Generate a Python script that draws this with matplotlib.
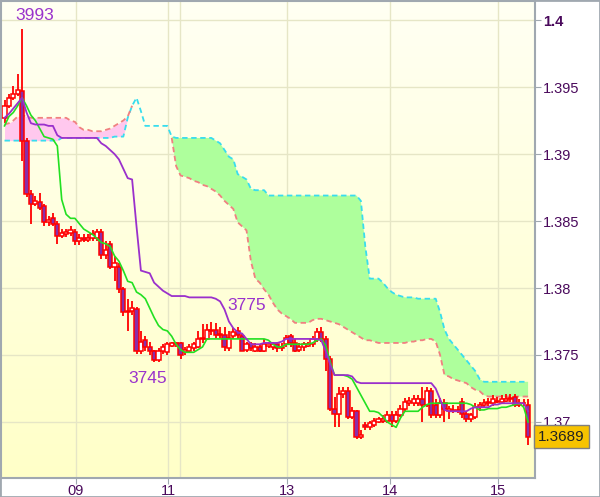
import numpy as np
import matplotlib.pyplot as plt
from matplotlib.colors import LinearSegmentedColormap
from matplotlib.patches import Rectangle

nan = float('nan')

# hourly candles
opens = [1.3927, 1.3936, 1.3942, 1.3945, 1.3947, 1.3910, 1.3870, 1.3863, 1.3864, 1.3861,
         1.3849, 1.3852, 1.3848, 1.3839, 1.3840, 1.3841, 1.3842, 1.3835, 1.3837, 1.3836,
         1.3837, 1.3837, 1.3842, 1.3825, 1.3833, 1.3816, 1.3816, 1.3799, 1.3782, 1.3783,
         1.3784, 1.3753, 1.3761, 1.3756, 1.3753, 1.3746, 1.3753, 1.3752, 1.3757, 1.3758,
         1.3759, 1.3752, 1.3753, 1.3755, 1.3756, 1.3762, 1.3762, 1.3768, 1.3769, 1.3765,
         1.3765, 1.3755, 1.3764, 1.3768, 1.3764, 1.3754, 1.3758, 1.3753, 1.3756, 1.3753,
         1.3757, 1.3756, 1.3758, 1.3755, 1.3758, 1.3764, 1.3759, 1.3754, 1.3756, 1.3757,
         1.3758, 1.3762, 1.3767, 1.3762, 1.3747, 1.3710, 1.3706, 1.3721, 1.3723, 1.3704,
         1.3708, 1.3689, 1.3698, 1.3696, 1.3698, 1.3700, 1.3701, 1.3701, 1.3705, 1.3701,
         1.3705, 1.3710, 1.3714, 1.3714, 1.3714, 1.3717, 1.3713, 1.3723, 1.3713, 1.3705,
         1.3714, 1.3708, 1.3708, 1.3708, 1.3715, 1.3706, 1.3702, 1.3704, 1.3711, 1.3713,
         1.3714, 1.3714, 1.3715, 1.3715, 1.3716, 1.3717, 1.3719, 1.3713, 1.3714, 1.3713]
closes = [1.3936, 1.3942, 1.3945, 1.3948, 1.3910, 1.3870, 1.3863, 1.3865, 1.3860, 1.3849,
          1.3851, 1.3848, 1.3839, 1.3841, 1.3842, 1.3843, 1.3835, 1.3837, 1.3836, 1.3837,
          1.3840, 1.3842, 1.3825, 1.3828, 1.3816, 1.3819, 1.3799, 1.3782, 1.3783, 1.3785,
          1.3753, 1.3760, 1.3756, 1.3753, 1.3746, 1.3753, 1.3756, 1.3758, 1.3759, 1.3759,
          1.3750, 1.3754, 1.3756, 1.3758, 1.3762, 1.3763, 1.3769, 1.3769, 1.3765, 1.3766,
          1.3756, 1.3763, 1.3767, 1.3765, 1.3753, 1.3758, 1.3755, 1.3756, 1.3753, 1.3758,
          1.3758, 1.3758, 1.3755, 1.3756, 1.3763, 1.3759, 1.3753, 1.3756, 1.3758, 1.3758,
          1.3762, 1.3767, 1.3762, 1.3747, 1.3710, 1.3706, 1.3721, 1.3723, 1.3704, 1.3708,
          1.3689, 1.3690, 1.3696, 1.3699, 1.3701, 1.3702, 1.3702, 1.3705, 1.3701, 1.3705,
          1.3710, 1.3715, 1.3716, 1.3717, 1.3717, 1.3713, 1.3723, 1.3705, 1.3705, 1.3714,
          1.3710, 1.3710, 1.3709, 1.3709, 1.3706, 1.3702, 1.3705, 1.3711, 1.3713, 1.3714,
          1.3715, 1.3717, 1.3716, 1.3717, 1.3717, 1.3718, 1.3713, 1.3714, 1.3714, 1.3689]
highs = [1.3940, 1.3945, 1.3951, 1.3960, 1.3993, 1.3912, 1.3873, 1.3869, 1.3871, 1.3863,
         1.3854, 1.3856, 1.3850, 1.3844, 1.3844, 1.3846, 1.3844, 1.3840, 1.3840, 1.3840,
         1.3843, 1.3844, 1.3844, 1.3835, 1.3835, 1.3824, 1.3819, 1.3801, 1.3792, 1.3790,
         1.3786, 1.3768, 1.3764, 1.3760, 1.3754, 1.3755, 1.3758, 1.3760, 1.3760, 1.3760,
         1.3760, 1.3756, 1.3758, 1.3760, 1.3768, 1.3773, 1.3773, 1.3775, 1.3774, 1.3771,
         1.3771, 1.3768, 1.3770, 1.3771, 1.3766, 1.3760, 1.3760, 1.3759, 1.3758, 1.3762,
         1.3760, 1.3760, 1.3760, 1.3759, 1.3765, 1.3766, 1.3762, 1.3759, 1.3760, 1.3760,
         1.3764, 1.3770, 1.3771, 1.3764, 1.3749, 1.3719, 1.3726, 1.3726, 1.3726, 1.3711,
         1.3709, 1.3694, 1.3700, 1.3701, 1.3703, 1.3704, 1.3705, 1.3708, 1.3708, 1.3708,
         1.3713, 1.3718, 1.3719, 1.3720, 1.3720, 1.3726, 1.3726, 1.3725, 1.3717, 1.3718,
         1.3717, 1.3712, 1.3713, 1.3712, 1.3718, 1.3708, 1.3707, 1.3714, 1.3715, 1.3717,
         1.3718, 1.3720, 1.3719, 1.3720, 1.3721, 1.3721, 1.3721, 1.3717, 1.3717, 1.3717]
lows = [1.3923, 1.3934, 1.3940, 1.3943, 1.3895, 1.3868, 1.3848, 1.3861, 1.3858, 1.3846,
        1.3846, 1.3846, 1.3833, 1.3837, 1.3838, 1.3839, 1.3832, 1.3832, 1.3834, 1.3834,
        1.3835, 1.3835, 1.3822, 1.3822, 1.3814, 1.3805, 1.3796, 1.3779, 1.3768, 1.3780,
        1.3751, 1.3751, 1.3753, 1.3750, 1.3745, 1.3745, 1.3751, 1.3750, 1.3756, 1.3756,
        1.3747, 1.3750, 1.3752, 1.3753, 1.3755, 1.3759, 1.3761, 1.3765, 1.3763, 1.3763,
        1.3753, 1.3753, 1.3762, 1.3762, 1.3753, 1.3752, 1.3753, 1.3752, 1.3752, 1.3752,
        1.3755, 1.3754, 1.3752, 1.3753, 1.3756, 1.3756, 1.3752, 1.3752, 1.3753, 1.3756,
        1.3756, 1.3760, 1.3760, 1.3738, 1.3708, 1.3696, 1.3696, 1.3718, 1.3702, 1.3702,
        1.3687, 1.3687, 1.3694, 1.3694, 1.3696, 1.3699, 1.3699, 1.3699, 1.3696, 1.3699,
        1.3704, 1.3708, 1.3712, 1.3712, 1.3712, 1.3700, 1.3711, 1.3703, 1.3703, 1.3703,
        1.3700, 1.3702, 1.3707, 1.3707, 1.3703, 1.3700, 1.3700, 1.3702, 1.3708, 1.3711,
        1.3712, 1.3712, 1.3714, 1.3714, 1.3715, 1.3715, 1.3711, 1.3711, 1.3712, 1.3683]

# ichimoku lines
tenkan = [1.3921, 1.3928, 1.3931, 1.3936, 1.3942, 1.3936, 1.3929, 1.3925, 1.3919, 1.3913,
          1.3912, 1.3911, 1.3906, 1.3866, 1.3855, 1.3852, 1.3852, 1.3848, 1.3844, 1.3842,
          1.3840, 1.3837, 1.3834, 1.3833, 1.3831, 1.3824, 1.3820, 1.3813, 1.3805, 1.3804,
          1.3797, 1.3795, 1.3792, 1.3785, 1.3778, 1.3772, 1.3769, 1.3768, 1.3764, 1.3758,
          1.3754, 1.3752, 1.3752, 1.3752, 1.3754, 1.3756, 1.3762, 1.3762, 1.3762, 1.3762,
          1.3762, 1.3762, 1.3762, 1.3762, 1.3762, 1.3762, 1.3762, 1.3762, 1.3762, 1.3762,
          1.3761, 1.3758, 1.3756, 1.3756, 1.3758, 1.3758, 1.3758, 1.3758, 1.3758, 1.3758,
          1.3759, 1.3761, 1.3762, 1.3757, 1.3745, 1.3735, 1.3735, 1.3735, 1.3734, 1.3732,
          1.3726, 1.3720, 1.3714, 1.3708, 1.3708, 1.3707, 1.3704, 1.3700, 1.3698, 1.3696,
          1.3703, 1.3708, 1.3708, 1.3708, 1.3708, 1.3711, 1.3713, 1.3714, 1.3714, 1.3714,
          1.3714, 1.3714, 1.3714, 1.3714, 1.3714, 1.3714, 1.3713, 1.3711, 1.3709, 1.3709,
          1.3710, 1.3710, 1.3710, 1.3711, 1.3711, 1.3712, 1.3713, 1.3714, 1.3711, 1.3700]
kijun = [1.3927, 1.3930, 1.3934, 1.3938, 1.3942, 1.3931, 1.3923, 1.3922, 1.3922, 1.3922,
         1.3921, 1.3921, 1.3914, 1.3912, 1.3912, 1.3912, 1.3912, 1.3912, 1.3912, 1.3912,
         1.3912, 1.3912, 1.3908, 1.3906, 1.3903, 1.3900, 1.3896, 1.3889, 1.3882, 1.3881,
         1.3846, 1.3813, 1.3812, 1.3811, 1.3804, 1.3801, 1.3798, 1.3796, 1.3794, 1.3794,
         1.3794, 1.3794, 1.3793, 1.3793, 1.3793, 1.3793, 1.3793, 1.3793, 1.3792, 1.3790,
         1.3784, 1.3775, 1.3770, 1.3767, 1.3766, 1.3762, 1.3758, 1.3758, 1.3758, 1.3759,
         1.3759, 1.3759, 1.3759, 1.3760, 1.3762, 1.3762, 1.3762, 1.3762, 1.3762, 1.3762,
         1.3762, 1.3762, 1.3761, 1.3753, 1.3743, 1.3735, 1.3735, 1.3735, 1.3735, 1.3734,
         1.3730, 1.3729, 1.3729, 1.3729, 1.3729, 1.3729, 1.3729, 1.3729, 1.3729, 1.3729,
         1.3729, 1.3729, 1.3729, 1.3729, 1.3729, 1.3729, 1.3729, 1.3729, 1.3725, 1.3717,
         1.3709, 1.3708, 1.3708, 1.3708, 1.3708, 1.3708, 1.3710, 1.3711, 1.3711, 1.3711,
         1.3711, 1.3713, 1.3713, 1.3714, 1.3714, 1.3714, 1.3714, 1.3714, 1.3714, 1.3708]
senkou_a = [1.3910, 1.3910, 1.3910, 1.3910, 1.3910, 1.3910, 1.3910, 1.3910, 1.3910, 1.3910,
            1.3910, 1.3910, 1.3910, 1.3912, 1.3912, 1.3912, 1.3912, 1.3912, 1.3912, 1.3912,
            1.3912, 1.3912, 1.3912, 1.3912, 1.3912, 1.3913, 1.3913, 1.3913, 1.3927, 1.3936,
            1.3942, 1.3932, 1.3921, 1.3921, 1.3921, 1.3921, 1.3921, 1.3921, 1.3913, 1.3912,
            1.3912, 1.3912, 1.3912, 1.3912, 1.3912, 1.3912, 1.3912, 1.3912, 1.3910, 1.3908,
            1.3903, 1.3898, 1.3896, 1.3885, 1.3883, 1.3881, 1.3874, 1.3873, 1.3873, 1.3873,
            1.3869, 1.3869, 1.3869, 1.3869, 1.3869, 1.3869, 1.3869, 1.3869, 1.3869, 1.3869,
            1.3869, 1.3869, 1.3869, 1.3869, 1.3869, 1.3869, 1.3869, 1.3869, 1.3869, 1.3869,
            1.3869, 1.3865, 1.3831, 1.3807, 1.3807, 1.3807, 1.3804, 1.3800, 1.3797, 1.3795,
            1.3794, 1.3793, 1.3793, 1.3793, 1.3792, 1.3792, 1.3792, 1.3792, 1.3792, 1.3782,
            1.3769, 1.3762, 1.3758, 1.3754, 1.3750, 1.3746, 1.3742, 1.3738, 1.3732, 1.3730,
            1.3730, 1.3730, 1.3730, 1.3730, 1.3730, 1.3730, 1.3730, 1.3730, 1.3730, 1.3730]
senkou_b = [1.3922, 1.3923, 1.3925, 1.3928, 1.3929, 1.3928, 1.3927, 1.3927, 1.3927, 1.3927,
            1.3927, 1.3927, 1.3927, 1.3927, 1.3927, 1.3925, 1.3924, 1.3920, 1.3918, 1.3918,
            1.3917, 1.3917, 1.3917, 1.3918, 1.3919, 1.3921, 1.3923, 1.3925, 1.3928, 1.3936,
            nan, nan, nan, nan, nan, nan, nan, nan, 1.3912, 1.3891,
            1.3884, 1.3883, 1.3882, 1.3880, 1.3879, 1.3877, 1.3876, 1.3874, 1.3872, 1.3869,
            1.3865, 1.3862, 1.3859, 1.3849, 1.3846, 1.3843, 1.3820, 1.3807, 1.3804, 1.3799,
            1.3795, 1.3789, 1.3784, 1.3781, 1.3779, 1.3777, 1.3774, 1.3774, 1.3774, 1.3774,
            1.3776, 1.3777, 1.3777, 1.3776, 1.3775, 1.3774, 1.3773, 1.3771, 1.3769, 1.3767,
            1.3765, 1.3763, 1.3761, 1.3761, 1.3760, 1.3759, 1.3759, 1.3759, 1.3759, 1.3759,
            1.3759, 1.3759, 1.3760, 1.3760, 1.3761, 1.3761, 1.3762, 1.3762, 1.3760, 1.3750,
            1.3735, 1.3734, 1.3732, 1.3731, 1.3730, 1.3729, 1.3726, 1.3724, 1.3723, 1.3720,
            1.3719, 1.3719, 1.3719, 1.3719, 1.3719, 1.3719, 1.3719, 1.3719, 1.3719, 1.3719]

# day separators (bar position) and their labels
day_pos = [16.25, 37.2, 64.2, 87.6, 112.2]
day_labels = ['09', '11', '13', '14', '15']
extra_grid = [39.9]
price_ticks = [1.37, 1.375, 1.38, 1.385, 1.39, 1.395, 1.4]
price_labels = ['1.37', '1.375', '1.38', '1.385', '1.39', '1.395', '1.4']

txt_col = '#4A0A5C'
lbl_col = '#9A33CC'
plt.rcParams['font.family'] = ['Liberation Sans', 'DejaVu Sans']

o = np.array(opens)
c = np.array(closes)
h = np.array(highs)
l = np.array(lows)
sa = np.array(senkou_a)
sb = np.array(senkou_b)
bars = np.arange(len(c))

fig = plt.figure(figsize=(6, 4.97), dpi=100)
ax = fig.add_axes([1/600, 19/497, 534/600, 477/497])
x0, x1 = -0.8, 120.57
y0, y1 = 1.36582, 1.40142
ax.set_xlim(x0, x1)
ax.set_ylim(y0, y1)

# background gradient
grad = np.linspace(0, 1, 256).reshape(-1, 1)
bg = LinearSegmentedColormap.from_list('bg', ['#FFFFF3', '#FFFFC8'])
ax.imshow(grad, aspect='auto', cmap=bg, extent=(x0, x1, y0, y1), origin='upper', zorder=0)

# grid
for p in price_ticks:
    ax.axhline(p, color='#E6E6C6', lw=1, zorder=0.5)
for d in day_pos + extra_grid:
    ax.axvline(d, color='#E6E6C6', lw=1, zorder=0.5)

# cloud
ax.fill_between(bars, sa, sb, where=sb >= sa, color='#FFC8EE', lw=0, zorder=1, interpolate=True)
ax.fill_between(bars, sa, sb, where=sa >= sb, color='#AEFF9C', lw=0, zorder=1, interpolate=True)
ax.plot(bars, sa, color='#38DDEE', lw=1.3, dashes=(3, 2), zorder=2)
ax.plot(bars, sb, color='#F08080', lw=1.3, dashes=(3, 2), zorder=2)

# candles
up = c >= o
ax.vlines(bars, l, h, color='#FF0000', lw=1.3, zorder=3)
ax.bar(bars, np.abs(c - o), bottom=np.minimum(o, c), width=0.92,
       color=np.where(up, 'white', '#8A2EA8'), edgecolor='#FF0000', lw=1.1, zorder=4)

# tenkan / kijun
ax.plot(bars, tenkan, color='#22E022', lw=1.2, zorder=5)
ax.plot(bars, kijun, color='#9A30CC', lw=1.3, zorder=5)

# high / low marks
ih = int(np.argmax(h))
ax.annotate('%d' % round(h[ih] * 1e4 % 10000), (bars[ih], h[ih]), xytext=(13, 14),
            textcoords='offset pixels', ha='center', va='center', color=lbl_col, fontsize=12.5, zorder=6)
il = int(np.argmin(l[:60]))
ax.annotate('%d' % round(l[il] * 1e4 % 10000), (bars[il], l[il]), xytext=(-6, -17),
            textcoords='offset pixels', ha='center', va='center', color=lbl_col, fontsize=12.5, zorder=6)
ir = 40 + int(np.argmax(h[40:60]))
ax.annotate('%d' % round(h[ir] * 1e4 % 10000), (bars[ir], h[ir]), xytext=(35, 16),
            textcoords='offset pixels', ha='center', va='center', color=lbl_col, fontsize=12.5, zorder=6)

# axes styling
for s in ax.spines.values():
    s.set_color('#A0A8B0')
    s.set_linewidth(1.5)
ax.yaxis.tick_right()
ax.set_yticks(price_ticks)
ax.set_yticklabels(price_labels)
ax.set_xticks(day_pos)
ax.set_xticklabels(day_labels)
ax.tick_params(axis='both', direction='out', length=4, color='#A0A8B0',
               labelcolor=txt_col, labelsize=10.5)
ax.tick_params(axis='y', pad=2)
ax.tick_params(axis='x', pad=0)
ax.get_yticklabels()[-1].set_fontweight('bold')

# last price box
ax.text(1.006, c[-1], '%.4f' % c[-1], transform=ax.get_yaxis_transform(), ha='left', va='center',
        fontsize=11, color='#222222', zorder=7,
        bbox=dict(boxstyle='square,pad=0.28', fc='#F7C300', ec='#808080', lw=1))

fig.patches.append(Rectangle((0, 0), 1, 1, transform=fig.transFigure, fill=False,
                             edgecolor='#A0A8B0', lw=2))

fig.savefig('out.png', dpi=100)
